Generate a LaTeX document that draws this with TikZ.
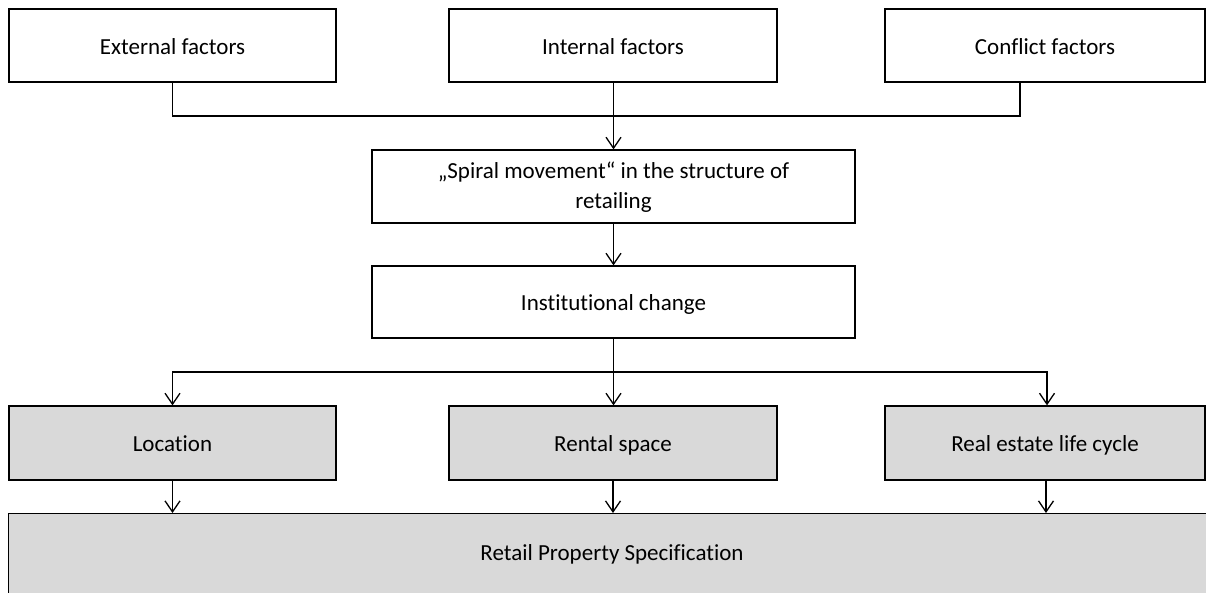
\documentclass[tikz,border=0pt]{standalone}
\usepackage{fontspec}
\setmainfont{Carlito}[RawFeature={-liga}]
\usetikzlibrary{arrows.meta}
\definecolor{boxgray}{HTML}{D9D9D9}
\begin{document}
\begin{tikzpicture}[x=1pt,y=-1pt,
  box/.style={draw=black, line width=1.3pt, minimum height=73pt, inner sep=2pt, font=\fontsize{23}{30}\selectfont, align=center},
  gbox/.style={box, fill=boxgray},
  one/.style={text height=17pt, text depth=0pt},
  conn/.style={line width=1.3pt},
  arr/.style={conn, -{Straight Barb[length=11pt,width=15pt,line width=1.3pt]}}]
\useasboundingbox (0,0) rectangle (1206,592);
\clip (0,0) rectangle (1206,592);
\fill[white] (0,0) rectangle (1206,592);
\node[box, one, minimum width=327pt] (ext) at (172.5,45.5) {External factors};
\node[box, one, minimum width=328pt] (int) at (613,45.5) {Internal factors};
\node[box, one, minimum width=320pt] (conf) at (1045,45.5) {Conflict factors};
\node[box, minimum width=483pt, text depth=3pt] (spiral) at (613.5,186.5) {„Spiral movement“ in the structure of\\retailing};
\node[box, one, minimum width=483pt, minimum height=72pt] (inst) at (613.5,302) {Institutional change};
\node[gbox, one, minimum width=327pt, minimum height=74pt] (loc) at (172.5,443) {Location};
\node[gbox, one, minimum width=328pt, minimum height=74pt] (rent) at (613,443) {Rental space};
\node[gbox, one, minimum width=320pt, minimum height=74pt] (real) at (1045,443) {Real estate life cycle};
\node[gbox, minimum width=1240pt, minimum height=120pt, anchor=north west] (retail) at (8,513) {};
\node[one, font=\fontsize{23}{30}\selectfont] (retailtxt) at (612,552) {Retail Property Specification};
\coordinate (j) at (613.5,116);
\coordinate (k) at (613.5,372);
\draw[conn] (ext.south) |- (j) -| ([xshift=-25pt]conf.south);
\draw[arr] (int.south -| j) -- (spiral.north);
\draw[arr] (spiral.south) -- (inst.north);
\draw[conn] (inst.south) -- (k);
\draw[arr] (k) -| (loc.north);
\draw[arr] (k) -| ([xshift=2pt]real.north);
\draw[arr] (k) -- (k |- rent.north);
\draw[arr] (loc.south) -- (loc.south |- retail.north);
\draw[arr] (rent.south) -- (rent.south |- retail.north);
\draw[arr] ([xshift=1pt]real.south) -- ([xshift=1pt]real.south |- retail.north);
\end{tikzpicture}
\end{document}
